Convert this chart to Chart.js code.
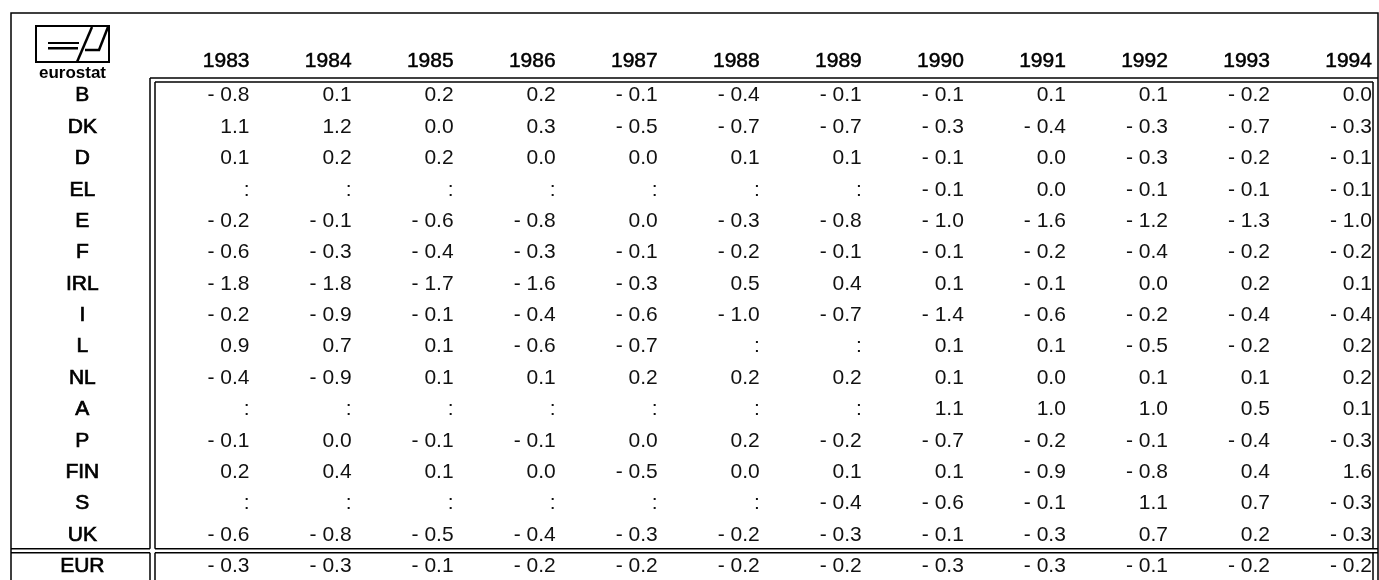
<!DOCTYPE html>
<html>
<head>
<meta charset="utf-8">
<title>eurostat table</title>
<script src="https://cdn.jsdelivr.net/npm/chart.js@4/dist/chart.umd.min.js"></script>
<style>
  html, body { margin: 0; padding: 0; background: #fff; overflow: hidden; }
  #wrap { width: 1379px; height: 580px; overflow: hidden; }
</style>
</head>
<body>
<div id="wrap"><canvas id="chart" width="1379" height="582"></canvas></div>
<script>
const years = ['1983', '1984', '1985', '1986', '1987', '1988', '1989', '1990', '1991', '1992', '1993', '1994'];
const countries = ['B', 'DK', 'D', 'EL', 'E', 'F', 'IRL', 'I', 'L', 'NL', 'A', 'P', 'FIN', 'S', 'UK', 'EUR'];

// null = not available (printed as ':')
const be  = [-0.8, 0.1, 0.2, 0.2, -0.1, -0.4, -0.1, -0.1, 0.1, 0.1, -0.2, 0.0];
const dk  = [1.1, 1.2, 0.0, 0.3, -0.5, -0.7, -0.7, -0.3, -0.4, -0.3, -0.7, -0.3];
const de  = [0.1, 0.2, 0.2, 0.0, 0.0, 0.1, 0.1, -0.1, 0.0, -0.3, -0.2, -0.1];
const el  = [null, null, null, null, null, null, null, -0.1, 0.0, -0.1, -0.1, -0.1];
const es  = [-0.2, -0.1, -0.6, -0.8, 0.0, -0.3, -0.8, -1.0, -1.6, -1.2, -1.3, -1.0];
const fr  = [-0.6, -0.3, -0.4, -0.3, -0.1, -0.2, -0.1, -0.1, -0.2, -0.4, -0.2, -0.2];
const ie  = [-1.8, -1.8, -1.7, -1.6, -0.3, 0.5, 0.4, 0.1, -0.1, 0.0, 0.2, 0.1];
const it  = [-0.2, -0.9, -0.1, -0.4, -0.6, -1.0, -0.7, -1.4, -0.6, -0.2, -0.4, -0.4];
const lu  = [0.9, 0.7, 0.1, -0.6, -0.7, null, null, 0.1, 0.1, -0.5, -0.2, 0.2];
const nl  = [-0.4, -0.9, 0.1, 0.1, 0.2, 0.2, 0.2, 0.1, 0.0, 0.1, 0.1, 0.2];
const at  = [null, null, null, null, null, null, null, 1.1, 1.0, 1.0, 0.5, 0.1];
const pt  = [-0.1, 0.0, -0.1, -0.1, 0.0, 0.2, -0.2, -0.7, -0.2, -0.1, -0.4, -0.3];
const fi  = [0.2, 0.4, 0.1, 0.0, -0.5, 0.0, 0.1, 0.1, -0.9, -0.8, 0.4, 1.6];
const se  = [null, null, null, null, null, null, -0.4, -0.6, -0.1, 1.1, 0.7, -0.3];
const uk  = [-0.6, -0.8, -0.5, -0.4, -0.3, -0.2, -0.3, -0.1, -0.3, 0.7, 0.2, -0.3];
const eur = [-0.3, -0.3, -0.1, -0.2, -0.2, -0.2, -0.2, -0.3, -0.3, -0.1, -0.2, -0.2];

const rows = [be, dk, de, el, es, fr, ie, it, lu, nl, at, pt, fi, se, uk, eur];

const FONT = '"Liberation Sans", Arial, sans-serif';

function fmt(v) {
  if (v === null) return ':';
  if (v < 0) return '- ' + Math.abs(v).toFixed(1);
  return v.toFixed(1);
}

const points = [];
rows.forEach((row, i) => {
  row.forEach((v, j) => points.push({ x: years[j], y: countries[i], v: v }));
});

function line(ctx, x1, y1, x2, y2) {
  ctx.beginPath();
  ctx.moveTo(x1, y1);
  ctx.lineTo(x2, y2);
  ctx.stroke();
}

function drawRules(chart) {
  const ctx = chart.ctx;
  const a = chart.chartArea;
  const ys = chart.scales.y;
  const n = countries.length;
  // double rule between the last country and the EUR total
  const split = (ys.getPixelForValue(n - 2) + ys.getPixelForValue(n - 1)) / 2;
  const bottom = chart.height + 20;
  const L = a.left, T = a.top, R = a.right;

  ctx.save();
  ctx.strokeStyle = '#000';
  ctx.lineWidth = 1.5;
  ctx.strokeRect(11, 13, R + 1 - 11, bottom);

  line(ctx, L - 2.5, T - 2, R + 1, T - 2);
  line(ctx, L + 2.5, T + 2, R - 4, T + 2);

  line(ctx, L - 2.5, T - 2, L - 2.5, split - 2);
  line(ctx, L + 2.5, T + 2, L + 2.5, split - 2);
  line(ctx, R - 4, T + 2, R - 4, split - 2);
  line(ctx, L - 2.5, split + 2, L - 2.5, bottom);
  line(ctx, L + 2.5, split + 2, L + 2.5, bottom);
  line(ctx, R - 4, split + 2, R - 4, bottom);

  line(ctx, 11, split - 2, L - 2.5, split - 2);
  line(ctx, 11, split + 2, L - 2.5, split + 2);
  line(ctx, L + 2.5, split - 2, R + 1, split - 2);
  line(ctx, L + 2.5, split + 2, R + 1, split + 2);
  ctx.restore();
}

function drawLogo(ctx) {
  ctx.save();
  ctx.strokeStyle = '#000';
  ctx.fillStyle = '#000';
  ctx.lineWidth = 2;
  ctx.strokeRect(36, 26, 73, 36);
  ctx.fillRect(48, 42, 31, 2);
  ctx.fillRect(48, 47, 30, 2.5);
  ctx.lineWidth = 2.5;
  line(ctx, 77, 62, 92, 27);
  line(ctx, 85, 50, 100, 50);
  line(ctx, 99, 50, 108, 27);
  ctx.font = 'bold 17px ' + FONT;
  ctx.textAlign = 'center';
  ctx.textBaseline = 'alphabetic';
  ctx.fillText('eurostat', 72.5, 78, 75);
  ctx.restore();
}

const tablePlugin = {
  id: 'table',
  afterDatasetsDraw(chart) {
    const ctx = chart.ctx;
    const meta = chart.getDatasetMeta(0);
    const xs = chart.scales.x;
    const half = (xs.getPixelForValue(1) - xs.getPixelForValue(0)) / 2;
    ctx.save();
    ctx.font = '21px ' + FONT;
    ctx.textAlign = 'right';
    ctx.textBaseline = 'middle';
    ctx.fillStyle = '#111';
    meta.data.forEach((el, k) => {
      ctx.fillText(fmt(points[k].v), el.x + half - 5, el.y);
    });
    ctx.restore();
  },
  afterDraw(chart) {
    drawRules(chart);
    drawLogo(chart.ctx);
  }
};

new Chart(document.getElementById('chart'), {
  type: 'scatter',
  data: {
    datasets: [{ data: points, pointRadius: 0, pointHoverRadius: 0 }]
  },
  options: {
    responsive: false,
    animation: false,
    layout: { padding: { left: 11, right: 2, top: 0, bottom: 0 } },
    plugins: { legend: { display: false }, tooltip: { enabled: false } },
    scales: {
      x: {
        type: 'category',
        labels: years,
        position: 'top',
        offset: true,
        grid: { display: false, drawTicks: false },
        border: { display: false },
        ticks: {
          align: 'end', labelOffset: 46, padding: 6, autoSkip: false, maxRotation: 0,
          color: '#000', textStrokeColor: '#000', textStrokeWidth: 0.5,
          font: { family: FONT, size: 21 }
        },
        afterFit: s => {
          s.height = 80;
          s.paddingLeft = 0;
          s.paddingRight = 0;
        }
      },
      y: {
        type: 'category',
        labels: countries,
        offset: true,
        grid: { display: false, drawTicks: false },
        border: { display: false },
        ticks: {
          crossAlign: 'center', padding: 48, autoSkip: false,
          color: '#000', textStrokeColor: '#000', textStrokeWidth: 0.7,
          font: { family: FONT, size: 21 }
        },
        afterFit: s => {
          s.width = 141.5;
          // the wide label padding must not eat rows at top and bottom
          s.paddingTop = 0;
          s.paddingBottom = 0;
        }
      }
    }
  },
  plugins: [tablePlugin]
});
</script>
</body>
</html>
